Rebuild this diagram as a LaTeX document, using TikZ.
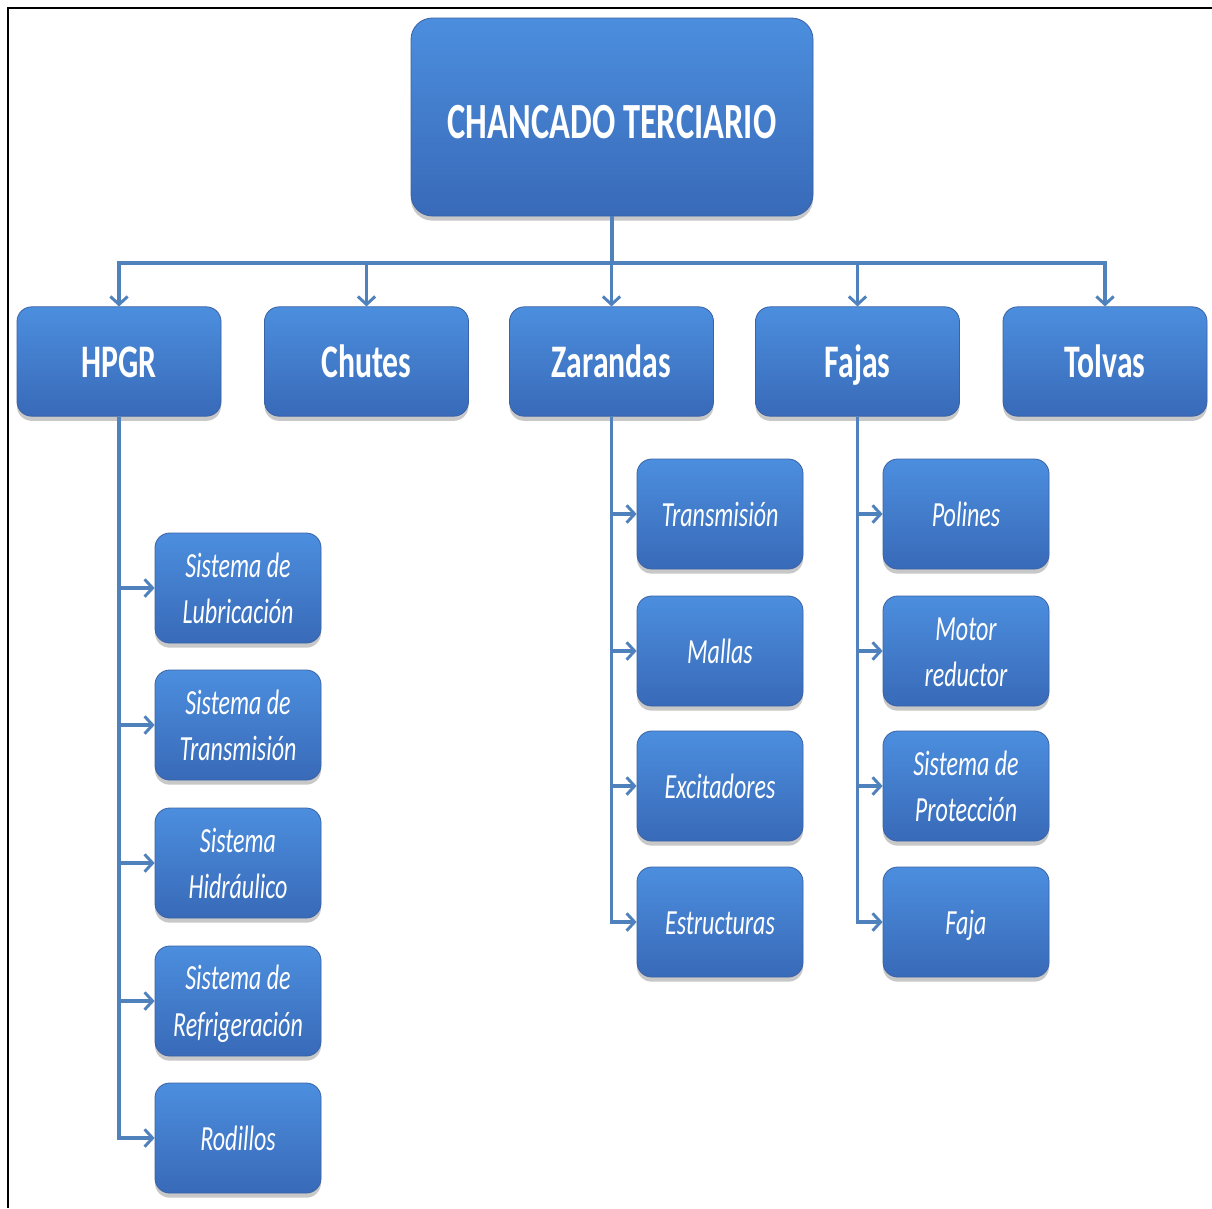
\documentclass[tikz,border=0pt]{standalone}
\usepackage{fontspec}
\setmainfont[FakeStretch=0.68]{Carlito}
\usetikzlibrary{arrows.meta,shadows}
\definecolor{boxtop}{RGB}{76,142,222}
\definecolor{boxbot}{RGB}{56,106,184}
\definecolor{boxedge}{RGB}{58,98,165}
\definecolor{linec}{RGB}{79,129,189}
\newcommand\lstr{\rule[-0.15em]{0pt}{1.0em}}
\newcommand\rstr{\rule[-0.1em]{0pt}{1.05em}}
\tikzset{
  x=0.75pt, y=-0.75pt,
  basebox/.style={draw=boxedge, line width=0.6pt, top color=boxtop, bottom color=boxbot,
    text=white, align=center, inner sep=0pt,
    drop shadow={shadow xshift=0pt, shadow yshift=-3.5pt, opacity=0.3, fill=black!70}},
  rootbox/.style={basebox, rounded corners=16pt, minimum width=301.5pt, minimum height=148.5pt,
    font=\fontsize{38}{44}\selectfont\bfseries},
  lvlbox/.style={basebox, rounded corners=11pt, minimum width=153pt, minimum height=82pt,
    font=\fontsize{35}{40}\selectfont\bfseries},
  leafbox/.style={basebox, rounded corners=11pt, minimum width=124.5pt, minimum height=82.5pt,
    font=\fontsize{26.5}{35}\selectfont\itshape},
  conn/.style={draw=linec, line width=2.5pt},
  arr/.style={conn, -{Straight Barb[length=6pt,width=13pt,line width=2.2pt]}}
}
\begin{document}
\begin{tikzpicture}
\useasboundingbox (0,0) rectangle (1212,1208);
\fill[white] (0,0) rectangle (1212,1208);
\draw[black, line width=2pt] (8,1208) -- (8,8) -- (1212,8);

\node[rootbox] (root) at (612,117) {\rstr CHANCADO TERCIARIO};

\node[lvlbox] (hpgr) at (119,361.5) {\lstr HPGR};
\node[lvlbox] (chutes) at (366.5,361.5) {\lstr Chutes};
\node[lvlbox] (zar) at (611.5,361.5) {\lstr Zarandas};
\node[lvlbox] (fajas) at (857.5,361.5) {\lstr Fajas};
\node[lvlbox] (tolvas) at (1105,361.5) {\lstr Tolvas};

\node[leafbox] (h1) at (238,588) {\lstr Sistema de\\\lstr Lubricación};
\node[leafbox] (h2) at (238,725) {\lstr Sistema de\\\lstr Transmisión};
\node[leafbox] (h3) at (238,863) {\lstr Sistema\\\lstr Hidráulico};
\node[leafbox] (h4) at (238,1001) {\lstr Sistema de\\\lstr Refrigeración};
\node[leafbox] (h5) at (238,1138) {\lstr Rodillos};

\node[leafbox] (z1) at (720,514) {\lstr Transmisión};
\node[leafbox] (z2) at (720,651) {\lstr Mallas};
\node[leafbox] (z3) at (720,786) {\lstr Excitadores};
\node[leafbox] (z4) at (720,922) {\lstr Estructuras};

\node[leafbox] (f1) at (966,514) {\lstr Polines};
\node[leafbox] (f2) at (966,651) {\lstr Motor\\\lstr reductor};
\node[leafbox] (f3) at (966,786) {\lstr Sistema de\\\lstr Protección};
\node[leafbox] (f4) at (966,922) {\lstr Faja};

\coordinate (bus) at (612,263);
\draw[conn] (root.south) -- (bus);
\foreach \n in {hpgr,chutes,zar,fajas,tolvas}
  \draw[arr] (bus) -| (\n.north);

\foreach \n in {h1,h2,h3,h4,h5}
  \draw[arr] (hpgr.south) |- (\n.west);
\foreach \n in {z1,z2,z3,z4}
  \draw[arr] (zar.south) |- (\n.west);
\foreach \n in {f1,f2,f3,f4}
  \draw[arr] (fajas.south) |- (\n.west);
\end{tikzpicture}
\end{document}
